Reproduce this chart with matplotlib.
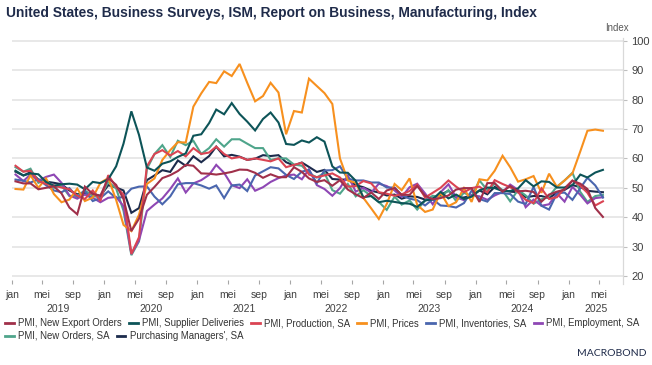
import matplotlib
matplotlib.use("Agg")
import matplotlib.pyplot as plt
import matplotlib.dates as mdates
import matplotlib.transforms as mtransforms
import pandas as pd

plt.rcParams['font.family'] = ['Liberation Sans', 'DejaVu Sans']

# ---------------- data (monthly, Jan 2019 - May 2025) ----------------
start_month = "2019-01-01"
end_month = "2025-05-01"

export_orders = [52.2, 51.5, 51.5, 49.5, 50.0, 50.5, 48.1, 43.3, 41.0, 50.4, 47.9, 47.3,
                 53.3, 51.0, 46.2, 35.3, 39.5, 47.6, 50.3, 53.3, 54.3, 55.7, 57.8, 57.5,
                 54.9, 54.8, 54.5, 54.9, 55.4, 56.2, 56.1, 55.1, 53.4, 54.6, 53.6, 53.6,
                 57.0, 55.4, 53.2, 52.0, 52.6, 50.7, 52.6, 49.4, 47.8, 46.5, 48.4, 46.2,
                 49.1, 49.9, 47.6, 47.6, 50.6, 47.3, 46.1, 46.5, 47.4, 49.4, 49.9, 49.9,
                 45.2, 51.6, 51.6, 48.7, 50.6, 48.8, 49.0, 48.6, 45.3, 47.7, 48.7, 49.4,
                 52.4, 51.4, 49.6, 43.1, 40.1]
supplier_deliveries = [55.8, 54.2, 54.9, 54.6, 52.0, 50.7, 51.2, 51.4, 51.1, 49.5, 52.0, 51.6,
                       52.9, 57.3, 65.0, 76.0, 68.0, 56.9, 55.8, 58.2, 59.0, 60.5, 61.7, 67.7,
                       68.2, 72.0, 76.6, 75.0, 78.8, 75.1, 72.5, 69.5, 73.4, 75.6, 72.2, 64.9,
                       64.6, 66.1, 65.4, 67.2, 65.7, 57.3, 55.2, 55.1, 52.4, 46.8, 47.2, 45.1,
                       45.6, 45.2, 44.8, 44.6, 43.5, 45.7, 46.1, 48.6, 46.4, 47.7, 46.2, 47.0,
                       49.1, 50.1, 49.9, 48.9, 48.9, 49.8, 52.6, 50.5, 52.2, 52.0, 50.1, 50.1,
                       50.9, 54.5, 53.5, 55.2, 56.1]
production = [57.5, 55.5, 55.8, 52.3, 51.3, 50.8, 50.1, 49.5, 47.3, 46.2, 49.1, 45.5,
              54.3, 50.3, 47.7, 27.5, 33.2, 57.3, 61.5, 62.8, 61.0, 62.5, 60.7, 63.5,
              61.5, 62.0, 64.0, 61.5, 60.0, 60.5, 59.5, 60.0, 59.5, 59.0, 60.0, 57.0,
              57.8, 58.5, 54.5, 53.6, 54.2, 54.9, 53.5, 50.4, 50.6, 52.3, 51.5, 48.5,
              48.0, 47.3, 47.8, 48.9, 51.1, 46.7, 48.3, 50.0, 52.5, 50.4, 48.5, 49.9,
              50.4, 48.4, 52.6, 51.3, 50.2, 48.5, 45.9, 44.8, 49.8, 46.2, 46.8, 49.9,
              52.5, 50.7, 48.3, 44.0, 45.4]
prices = [49.6, 49.4, 54.3, 50.0, 53.2, 47.9, 45.1, 46.0, 49.7, 45.5, 46.7, 51.7,
          53.3, 45.9, 37.4, 35.3, 40.8, 51.3, 53.2, 59.5, 62.8, 65.5, 65.4, 77.6,
          82.1, 86.0, 85.6, 89.6, 88.0, 92.1, 85.7, 79.4, 81.2, 85.7, 82.4, 68.2,
          76.1, 75.6, 87.1, 84.6, 82.2, 78.5, 60.0, 52.5, 51.7, 46.6, 43.0, 39.4,
          44.5, 51.3, 49.2, 53.2, 44.2, 41.8, 42.6, 48.4, 43.8, 45.1, 49.9, 45.2,
          52.9, 52.5, 55.8, 60.9, 57.0, 52.1, 52.9, 54.0, 48.3, 54.8, 50.3, 52.5,
          54.9, 62.4, 69.4, 69.8, 69.4]
inventories = [52.8, 52.4, 51.8, 52.9, 50.9, 49.1, 48.5, 49.9, 46.9, 48.9, 45.5, 46.5,
               48.8, 46.5, 46.9, 49.7, 50.4, 50.5, 47.0, 44.4, 47.1, 51.2, 51.6, 51.6,
               50.8, 49.7, 50.8, 46.5, 50.8, 51.1, 48.9, 54.2, 55.6, 57.0, 56.6, 54.4,
               53.0, 55.5, 56.1, 51.6, 55.9, 56.0, 57.3, 53.1, 52.5, 52.5, 51.8, 51.8,
               50.1, 50.1, 47.5, 46.3, 45.8, 44.0, 46.1, 44.0, 43.8, 43.3, 44.8, 49.0,
               46.2, 45.3, 48.2, 48.2, 47.9, 45.3, 44.5, 50.3, 43.9, 42.6, 48.1, 48.4,
               45.9, 49.9, 53.4, 50.8, 46.7]
employment = [54.5, 52.3, 54.5, 52.4, 53.7, 54.5, 51.7, 47.4, 46.3, 47.7, 46.6, 45.1,
              46.6, 46.9, 43.8, 27.5, 32.1, 42.1, 44.3, 46.4, 49.6, 53.2, 48.4, 51.5,
              52.6, 54.4, 57.8, 55.1, 50.9, 49.9, 52.9, 49.0, 50.2, 52.0, 53.3, 54.2,
              54.5, 52.9, 56.3, 50.9, 49.6, 47.3, 49.9, 54.2, 48.7, 50.0, 48.4, 51.4,
              50.6, 49.1, 46.9, 50.2, 51.4, 48.1, 44.4, 48.5, 51.2, 46.8, 45.8, 47.5,
              47.1, 45.9, 47.4, 48.6, 51.1, 49.3, 43.4, 46.0, 43.9, 44.4, 48.1, 45.3,
              50.3, 47.6, 44.7, 46.5, 46.8]
new_orders = [57.0, 55.5, 56.5, 51.7, 52.7, 50.0, 50.8, 47.2, 47.3, 49.1, 47.2, 46.8,
              52.0, 49.8, 42.2, 27.1, 31.8, 56.4, 61.5, 64.5, 60.5, 66.0, 64.5, 66.0,
              61.5, 63.5, 66.5, 64.0, 66.5, 66.5, 65.0, 63.5, 63.5, 59.5, 60.0, 60.0,
              57.9, 57.5, 55.0, 53.5, 55.1, 49.2, 48.0, 51.3, 47.1, 49.2, 47.2, 45.2,
              42.5, 47.0, 44.3, 45.7, 42.6, 45.6, 47.3, 46.8, 49.2, 45.5, 48.3, 47.1,
              52.5, 49.2, 51.4, 49.1, 45.4, 49.3, 47.4, 44.6, 46.1, 47.1, 50.4, 52.5,
              55.1, 48.6, 45.2, 47.2, 47.6]
pmi = [55.5, 54.2, 55.3, 52.8, 52.1, 51.7, 51.2, 49.1, 47.8, 48.3, 48.1, 47.2,
       50.9, 50.1, 49.1, 41.5, 43.1, 52.6, 54.2, 56.0, 55.4, 59.3, 57.5, 60.7,
       58.7, 60.8, 64.0, 60.7, 61.2, 60.6, 59.5, 59.9, 61.1, 60.8, 61.1, 58.7,
       57.6, 58.6, 57.1, 55.4, 56.1, 53.0, 52.8, 52.8, 50.9, 50.2, 49.0, 48.4,
       47.4, 47.7, 46.3, 47.1, 46.9, 46.0, 46.4, 47.6, 49.0, 46.7, 46.7, 47.4,
       49.1, 47.8, 50.3, 49.2, 48.7, 48.5, 46.8, 47.2, 47.2, 46.5, 48.4, 49.3,
       50.9, 50.3, 49.0, 48.7, 48.5]

series_names = ["PMI, New Export Orders", "PMI, Supplier Deliveries", "PMI, Production, SA",
                "PMI, Prices", "PMI, Inventories, SA", "PMI, Employment, SA",
                "PMI, New Orders, SA", "Purchasing Managers', SA"]
series_values = [export_orders, supplier_deliveries, production, prices,
                 inventories, employment, new_orders, pmi]
series_colors = ["#A0304A", "#0D5458", "#DA4453", "#F7901E",
                 "#4A66AE", "#8E47B4", "#4FA58B", "#1C2B4C"]

y_ticks = [20, 30, 40, 50, 60, 70, 80, 90, 100]
month_labels = {1: "jan", 5: "mei", 9: "sep"}
years = [2019, 2020, 2021, 2022, 2023, 2024, 2025]

# ---------------- figure ----------------
W, H = 652, 365
fig = plt.figure(figsize=(W / 100, H / 100), dpi=100)
ax_left, ax_right = 11.7, 623.0
ax_top, ax_bot = 37.8, 283.7
ax = fig.add_axes([ax_left / W, 1 - ax_bot / H, (ax_right - ax_left) / W, (ax_bot - ax_top) / H])

months = pd.date_range(start_month, end_month, freq="MS")
dates = months + pd.Timedelta(days=15)

lines = []
n = len(series_values)
for i, (name, vals, col) in enumerate(zip(series_names, series_values, series_colors)):
    ln, = ax.plot(dates, vals, color=col, lw=1.5, label=name, zorder=10 + n - i,
                  solid_joinstyle="miter")
    lines.append(ln)

ax.set_xlim(pd.Timestamp("2019-01-01"), pd.Timestamp("2025-08-03"))
ax.set_ylim(17.4, 101)

# grid
for yv in y_ticks:
    ax.axhline(yv, color="#E6E6E6", lw=1.3, zorder=1)

# spines
for s in ["top", "left", "bottom"]:
    ax.spines[s].set_visible(False)
ax.spines["right"].set_color("#D9D9D9")
ax.spines["right"].set_linewidth(0.9)

# y axis on right
ax.yaxis.tick_right()
ax.set_yticks(y_ticks)
ax.tick_params(axis="y", which="major", length=3, width=0.8, color="#BFBFBF",
               labelsize=8, labelcolor="#404040", pad=3)

# x ticks
tick_dates = [d for d in pd.date_range("2019-01-01", "2025-08-01", freq="MS") if d.month in month_labels]
ax.set_xticks(tick_dates)
ax.set_xticklabels([month_labels[d.month] for d in tick_dates])
ax.tick_params(axis="x", which="major", length=3, width=0.8, color="#A6A6A6",
               labelsize=7.5, labelcolor="#404040", pad=4.5, direction="in")

# year labels
trans = mtransforms.blended_transform_factory(ax.transData, ax.transAxes)
xmax = pd.Timestamp("2025-08-03")
for y in years:
    a = pd.Timestamp(f"{y}-01-01")
    b = min(pd.Timestamp(f"{y + 1}-01-01"), xmax)
    mid = a + (b - a) / 2
    ax.text(mdates.date2num(mid), -0.101, str(y), transform=trans, ha="center", va="center",
            fontsize=7.5, color="#404040")

# title and unit label
fig.text(6 / W, 1 - 13 / H, "United States, Business Surveys, ISM, Report on Business, Manufacturing, Index",
         fontsize=9.9, fontweight="bold", color="#1F2B4A", ha="left", va="center")
fig.text(617 / W, 1 - 28 / H, "Index", fontsize=7, color="#595959", ha="center", va="center")

# legends (two rows)
common = dict(frameon=False, fontsize=6.9, handlelength=0.9, handletextpad=0.45,
              columnspacing=0.75, borderpad=0, borderaxespad=0, labelcolor="#333333")
leg1 = fig.legend(lines[:6], series_names[:6], loc="center left",
                  bbox_to_anchor=(5 / W, 1 - 323 / H), ncol=6, **common)
for l in leg1.get_lines():
    l.set_linewidth(2)
leg2 = fig.legend(lines[6:], series_names[6:], loc="center left",
                  bbox_to_anchor=(5 / W, 1 - 336 / H), ncol=2, **common)
for l in leg2.get_lines():
    l.set_linewidth(2)

# logo text
fig.text(612 / W, 1 - 354 / H, "MACROBOND", fontsize=7.5, color="#1F2B4A",
         ha="center", va="center", family=["Lato", "DejaVu Sans"])

fig.savefig("out.png", dpi=100, facecolor="white")
